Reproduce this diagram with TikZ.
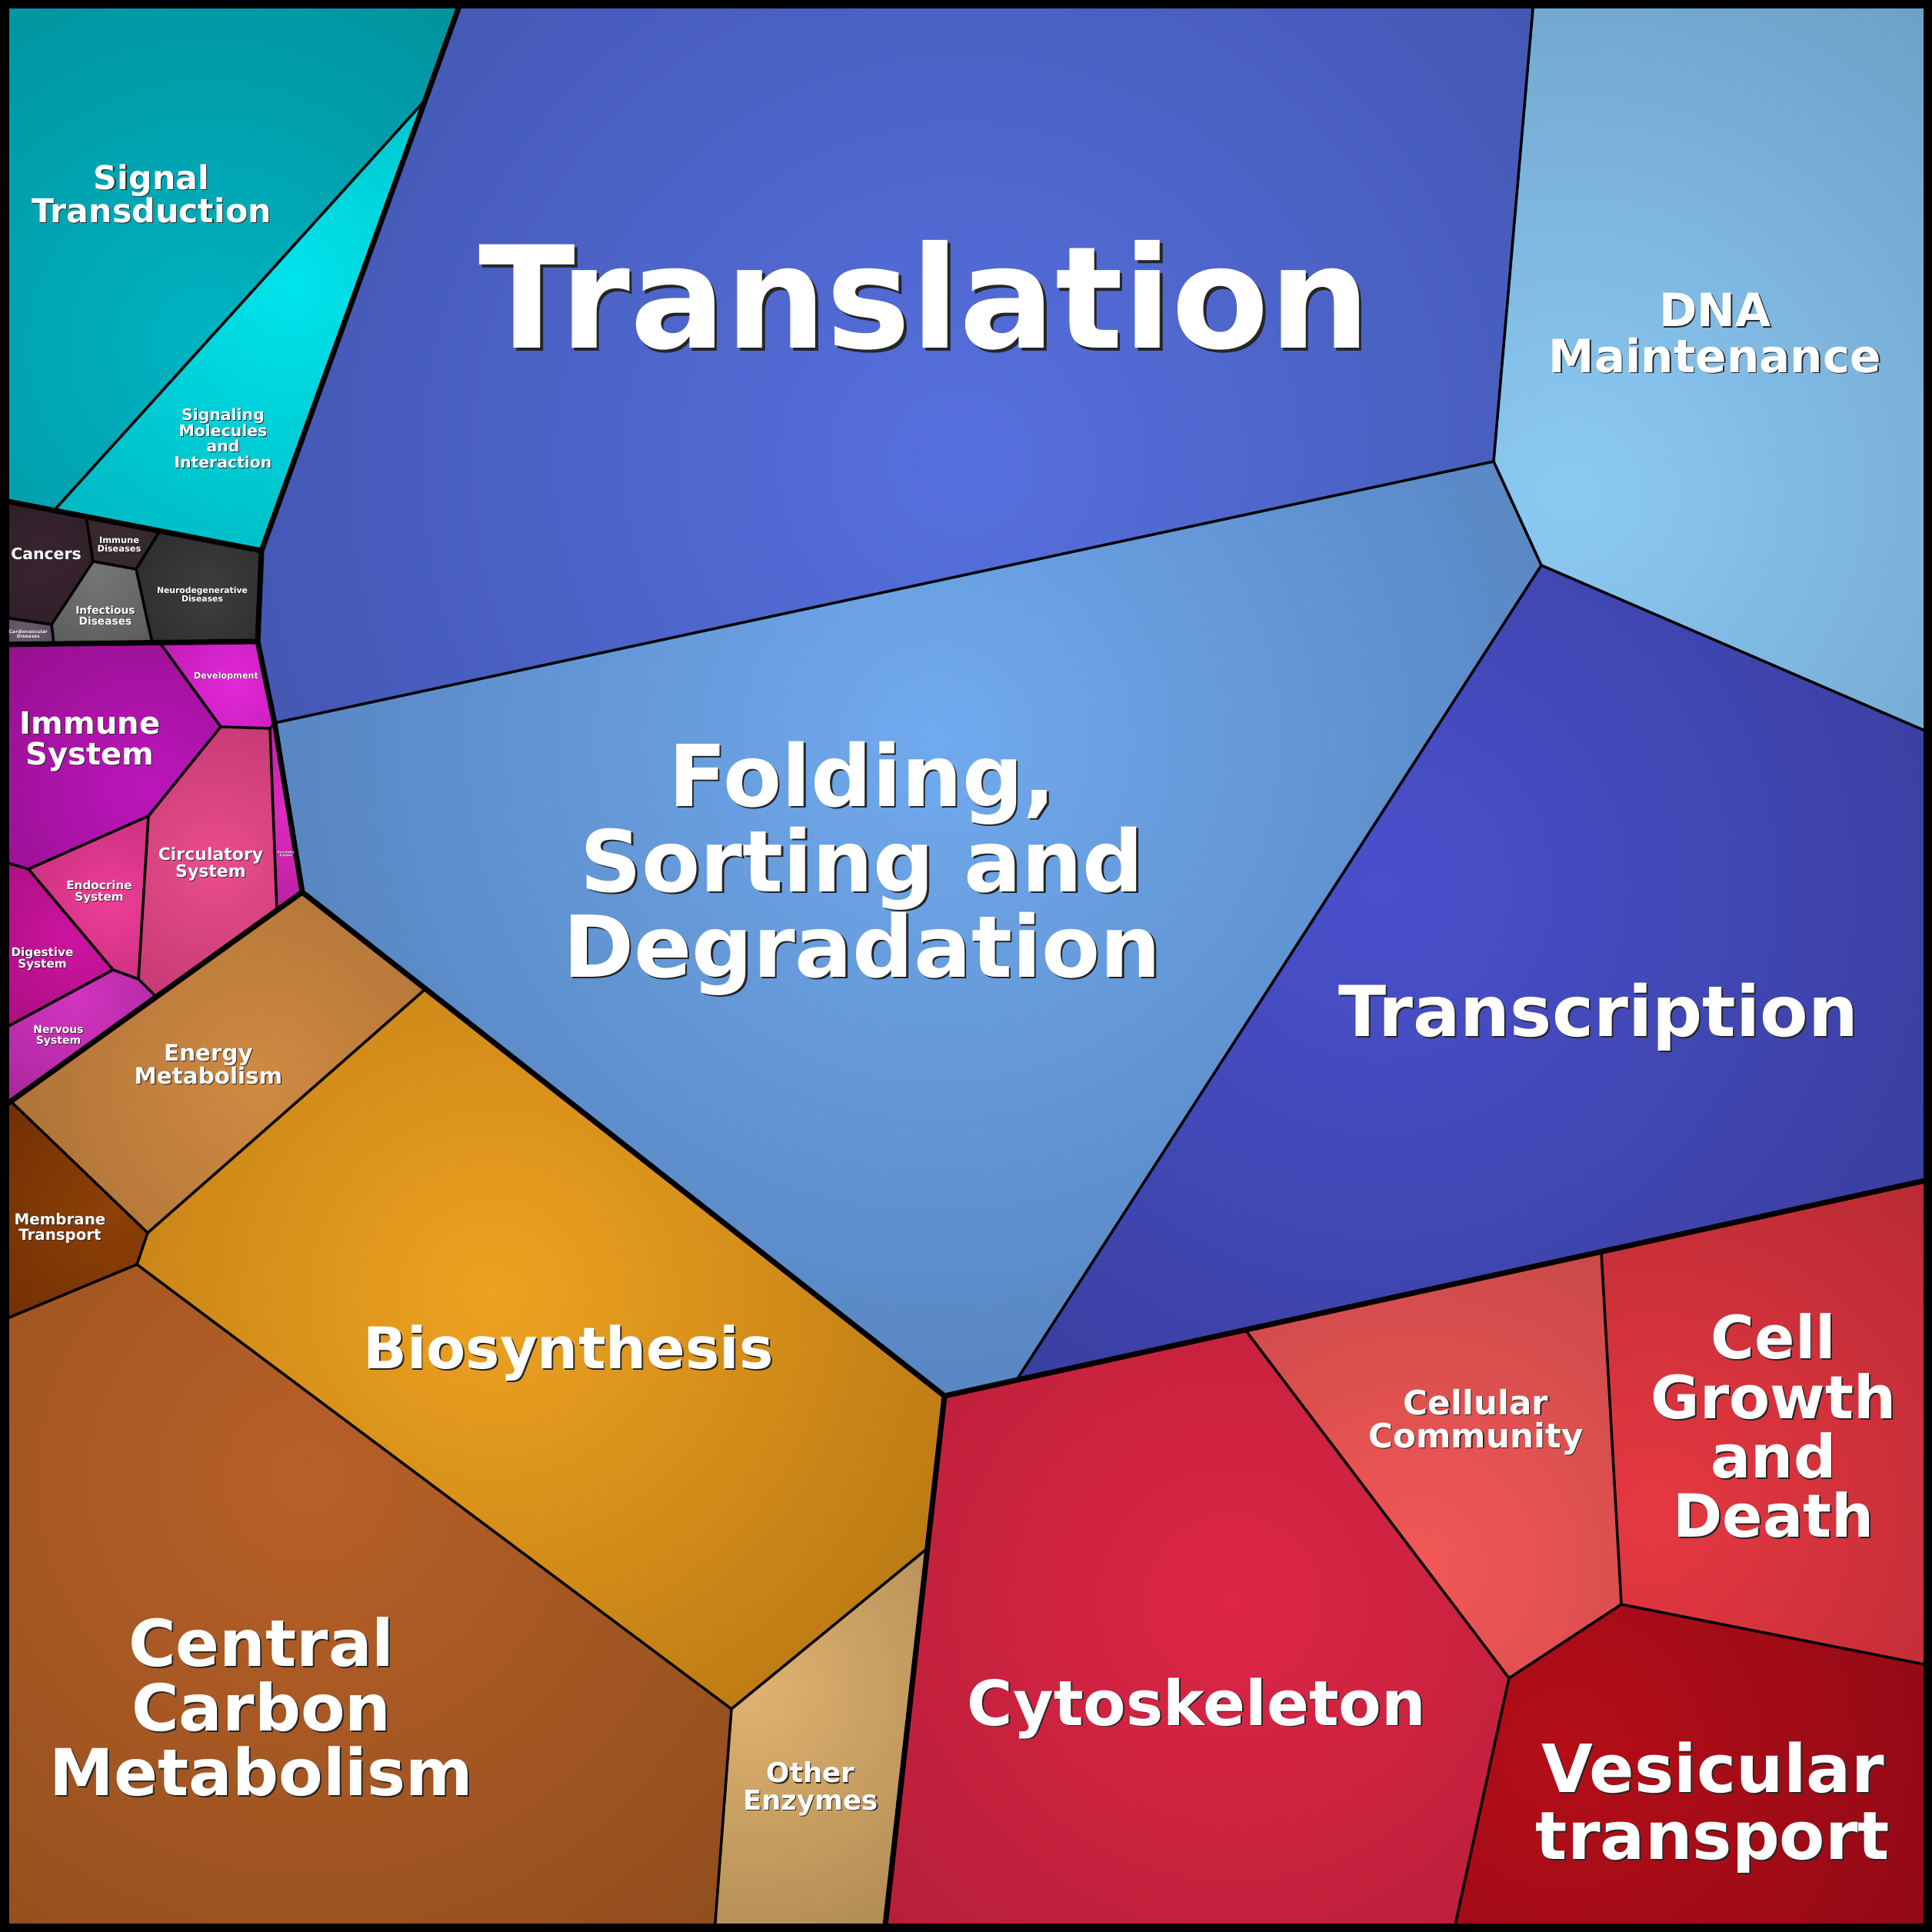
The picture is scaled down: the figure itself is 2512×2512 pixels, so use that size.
\documentclass[tikz,border=0pt]{standalone}
\usepackage{fontspec}
\setmainfont{DejaVu Sans}
\usepackage{tikz}
\usetikzlibrary{calc}

\definecolor{translIn}{RGB}{86,112,222}\definecolor{translOut}{RGB}{62,80,166}
\definecolor{foldIn}{RGB}{112,170,238}\definecolor{foldOut}{RGB}{80,122,178}
\definecolor{dnaIn}{RGB}{140,202,244}\definecolor{dnaOut}{RGB}{98,146,184}
\definecolor{transcIn}{RGB}{74,80,204}\definecolor{transcOut}{RGB}{52,58,144}
\definecolor{signalIn}{RGB}{0,180,194}\definecolor{signalOut}{RGB}{0,134,144}
\definecolor{sigmolIn}{RGB}{0,228,236}\definecolor{sigmolOut}{RGB}{0,168,178}
\definecolor{cancerIn}{RGB}{56,36,46}\definecolor{cancerOut}{RGB}{44,30,38}
\definecolor{immdisIn}{RGB}{60,44,50}\definecolor{immdisOut}{RGB}{46,34,40}
\definecolor{infectIn}{RGB}{118,118,118}\definecolor{infectOut}{RGB}{80,80,80}
\definecolor{neuroIn}{RGB}{62,62,62}\definecolor{neuroOut}{RGB}{40,40,40}
\definecolor{cardioIn}{RGB}{104,90,110}\definecolor{cardioOut}{RGB}{82,70,88}
\definecolor{develIn}{RGB}{228,40,218}\definecolor{develOut}{RGB}{176,24,166}
\definecolor{immsysIn}{RGB}{188,22,188}\definecolor{immsysOut}{RGB}{134,14,124}
\definecolor{circIn}{RGB}{234,76,142}\definecolor{circOut}{RGB}{184,52,108}
\definecolor{endoIn}{RGB}{238,62,152}\definecolor{endoOut}{RGB}{190,44,120}
\definecolor{digestIn}{RGB}{206,20,160}\definecolor{digestOut}{RGB}{156,14,120}
\definecolor{nervIn}{RGB}{210,52,192}\definecolor{nervOut}{RGB}{148,34,138}
\definecolor{excrIn}{RGB}{222,42,192}\definecolor{excrOut}{RGB}{176,30,152}
\definecolor{energyIn}{RGB}{208,138,66}\definecolor{energyOut}{RGB}{164,108,52}
\definecolor{membIn}{RGB}{142,64,6}\definecolor{membOut}{RGB}{102,42,4}
\definecolor{biosIn}{RGB}{238,162,32}\definecolor{biosOut}{RGB}{174,112,16}
\definecolor{ccmIn}{RGB}{184,96,40}\definecolor{ccmOut}{RGB}{132,72,26}
\definecolor{otherIn}{RGB}{224,178,112}\definecolor{otherOut}{RGB}{166,132,78}
\definecolor{cytoIn}{RGB}{222,38,70}\definecolor{cytoOut}{RGB}{168,28,52}
\definecolor{commIn}{RGB}{242,88,86}\definecolor{commOut}{RGB}{188,68,68}
\definecolor{growthIn}{RGB}{230,56,66}\definecolor{growthOut}{RGB}{168,38,46}
\definecolor{vesicIn}{RGB}{180,14,24}\definecolor{vesicOut}{RGB}{134,8,20}

\tikzset{cell/.style n args={4}{
  path picture={\shade[inner color=#1, outer color=#2] (#3) circle (#4);}
  }
}
\tikzset{thin border/.style={black, line width=0.875pt, line cap=round}}
\tikzset{thick border/.style={black, line width=1.75pt, line join=round, line cap=round}}
\tikzset{cell text/.style={white, align=center, inner sep=0pt}}
\tikzset{cell shadow/.style={black!85, align=center, inner sep=0pt}}

\begin{document}
\begin{tikzpicture}[x=0.25pt,y=-0.25pt]
    \useasboundingbox (0,0) rectangle (2512,2512);

    % group corners
    \coordinate (t0) at (600,0);    \coordinate (t1) at (1994,0);
    \coordinate (s1) at (553,130);  \coordinate (s2) at (70,664);
    \coordinate (d1) at (340,716);  \coordinate (d2) at (335,834);
    \coordinate (o1) at (357,940);  \coordinate (o2) at (393,1160);
    \coordinate (g1) at (1942,600); \coordinate (g2) at (2004,735);
    \coordinate (r1) at (2512,954); \coordinate (r2) at (2512,1533);
    \coordinate (c1) at (1322,1794);\coordinate (m1) at (1228,1815);
    \coordinate (m2) at (1150,2512);
    \coordinate (l1) at (0,650);    \coordinate (l2) at (0,838);
    \coordinate (l3) at (0,1442);
    \coordinate (tl) at (0,0);      \coordinate (tr) at (2512,0);
    \coordinate (bl) at (0,2512);   \coordinate (br) at (2512,2512);
    % diseases
    \coordinate (a1) at (112,672);  \coordinate (a2) at (208,690);
    \coordinate (a3) at (121,730);  \coordinate (a4) at (177,740);
    \coordinate (a5) at (67,812);   \coordinate (a6) at (198,836);
    \coordinate (a7) at (70,837);   \coordinate (la) at (0,802);
    % organismal systems
    \coordinate (b1) at (208,836);  \coordinate (b2) at (287,945);
    \coordinate (b3) at (351,947);  \coordinate (b4) at (193,1061);
    \coordinate (b5) at (37,1130);  \coordinate (b6) at (360,1184);
    \coordinate (b7) at (203,1296); \coordinate (b8) at (180,1273);
    \coordinate (b9) at (147,1261); \coordinate (lb1) at (0,1119);
    \coordinate (lb2) at (0,1340);
    % metabolism
    \coordinate (e0) at (14,1432);  \coordinate (e1) at (553,1286);
    \coordinate (e2) at (192,1603); \coordinate (e3) at (178,1644);
    \coordinate (e4) at (951,2222); \coordinate (e5) at (1206,2013);
    \coordinate (e6) at (929,2512); \coordinate (le) at (0,1718);
    % cellular processes
    \coordinate (f1) at (1619,1729);\coordinate (f2) at (2082,1628);
    \coordinate (f3) at (2108,2086);\coordinate (f4) at (1962,2182);
    \coordinate (f5) at (1890,2512);\coordinate (f6) at (2512,2166);

    % cells
    \path[cell={translIn}{translOut}{1250,600}{1250}] (t0) -- (t1) -- (g1) -- (o1) -- (d2) -- (d1) -- (s1) -- cycle;
    \path[cell={dnaIn}{dnaOut}{2040,640}{1050}] (t1) -- (tr) -- (r1) -- (g2) -- (g1) -- cycle;
    \path[cell={foldIn}{foldOut}{1218,961}{1150}] (o1) -- (g1) -- (g2) -- (c1) -- (m1) -- (o2) -- cycle;
    \path[cell={transcIn}{transcOut}{1794,1153}{1080}] (g2) -- (r1) -- (r2) -- (c1) -- cycle;
    \path[cell={signalIn}{signalOut}{272,449}{740}] (tl) -- (t0) -- (s1) -- (s2) -- (l1) -- cycle;
    \path[cell={sigmolIn}{sigmolOut}{376,368}{570}] (s1) -- (d1) -- (s2) -- cycle;
    \path[cell={cancerIn}{cancerOut}{55,730}{140}] (l1) -- (a1) -- (a3) -- (a5) -- (la) -- cycle;
    \path[cell={immdisIn}{immdisOut}{155,705}{90}] (a1) -- (a2) -- (a4) -- (a3) -- cycle;
    \path[cell={infectIn}{infectOut}{128,745}{160}] (a3) -- (a4) -- (a6) -- (a7) -- (a5) -- cycle;
    \path[cell={neuroIn}{neuroOut}{270,770}{140}] (a2) -- (d1) -- (d2) -- (a6) -- (a4) -- cycle;
    \path[cell={cardioIn}{cardioOut}{35,822}{60}] (la) -- (a5) -- (a7) -- (l2) -- cycle;
    \path[cell={develIn}{develOut}{304,889}{150}] (b1) -- (d2) -- (o1) -- (b3) -- (b2) -- cycle;
    \path[cell={immsysIn}{immsysOut}{192,1025}{360}] (l2) -- (b1) -- (b2) -- (b4) -- (b5) -- (lb1) -- cycle;
    \path[cell={circIn}{circOut}{280,1121}{260}] (b2) -- (b3) -- (b6) -- (b7) -- (b8) -- (b4) -- cycle;
    \path[cell={excrIn}{excrOut}{372,1050}{170}] (b3) -- (o1) -- (o2) -- (b6) -- cycle;
    \path[cell={endoIn}{endoOut}{144,1170}{160}] (b5) -- (b4) -- (b8) -- (b9) -- cycle;
    \path[cell={digestIn}{digestOut}{96,1218}{190}] (lb1) -- (b5) -- (b9) -- (lb2) -- cycle;
    \path[cell={nervIn}{nervOut}{96,1298}{240}] (lb2) -- (b9) -- (b8) -- (b7) -- (l3) -- cycle;
    \path[cell={energyIn}{energyOut}{336,1410}{430}] (o2) -- (e1) -- (e2) -- (e0) -- cycle;
    \path[cell={membIn}{membOut}{144,1578}{270}] (l3) -- (e0) -- (e2) -- (e3) -- (le) -- cycle;
    \path[cell={biosIn}{biosOut}{641,1682}{830}] (e1) -- (m1) -- (e5) -- (e4) -- (e3) -- (e2) -- cycle;
    \path[cell={ccmIn}{ccmOut}{400,1922}{1050}] (le) -- (e3) -- (e4) -- (e6) -- (bl) -- cycle;
    \path[cell={otherIn}{otherOut}{977,2195}{430}] (e4) -- (e5) -- (m2) -- (e6) -- cycle;
    \path[cell={cytoIn}{cytoOut}{1602,2083}{830}] (m1) -- (f1) -- (f4) -- (f5) -- (m2) -- cycle;
    \path[cell={commIn}{commOut}{1842,2035}{630}] (f1) -- (f2) -- (f3) -- (f4) -- cycle;
    \path[cell={growthIn}{growthOut}{2147,1970}{760}] (f2) -- (r2) -- (f6) -- (f3) -- cycle;
    \path[cell={vesicIn}{vesicOut}{2035,2275}{710}] (f4) -- (f3) -- (f6) -- (br) -- (f5) -- cycle;

    % borders inside the groups
    \foreach \a/\b in {s1/s2, a1/a3, a2/a4, a3/a4, a3/a5, a4/a6, la/a5, a5/a7,
        b1/b2, b2/b3, b3/o1, b2/b4, b4/b5, b5/lb1, b4/b8, b5/b9, b8/b9, b8/b7, b3/b6, b9/lb2,
        o1/g1, t1/g1, g1/g2, g2/r1, g2/c1,
        e0/e2, e1/e2, e2/e3, e3/le, e3/e4, e4/e5, e4/e6,
        f1/f4, f2/f3, f3/f4, f3/f6, f4/f5}
        \draw[thin border] (\a) -- (\b);

    % borders between the groups
    \draw[thick border] (t0) -- (s1) -- (d1) -- (d2) -- (o1) -- (o2) -- (m1) -- (m2);
    \draw[thick border] (l1) -- (d1);
    \draw[thick border] (l2) -- (d2);
    \draw[thick border] (o2) -- (l3);
    \draw[thick border] (m1) -- (r2);
    \draw[line width=2.875pt] (5.75,5.75) rectangle (2506.25,2506.25);

    \foreach \nm/\x/\y/\s/\t in {
        translation/1202/384/46.1/Translation,
        folding/1121/1129/27.75/{Folding,\\Sorting and\\Degradation},
        dna/2230/433/14.9/{DNA\\Maintenance},
        transcription/2078/1322/22.8/Transcription,
        signal/197/252/10.7/{Signal\\Transduction},
        sigmol/290/570/5.1/{Signaling\\Molecules\\and\\Interaction},
        cancers/60/720/5.1/Cancers,
        immdis/155/708/2.85/{Immune\\Diseases},
        infect/137/800/3.45/{Infectious\\Diseases},
        neuro/263/773/2.7/{Neurodegenerative\\Diseases},
        cardio/37/824/1.5/{Cardiovascular\\Diseases},
        devel/294/879/2.8/Development,
        immsys/117/964/10/{Immune\\System},
        circ/274/1124/5.5/{Circulatory\\System},
        endo/129/1160/3.8/{Endocrine\\System},
        digest/55/1247/3.8/{Digestive\\System},
        nerv/76/1347/3.5/{Nervous\\System},
        excr/372/1110/1.0/{Excretory\\System},
        energy/271/1384/7.35/{Energy\\Metabolism},
        memb/78/1597/4.95/{Membrane\\Transport},
        bios/739/1759/18.65/Biosynthesis,
        ccm/340/2219/21/{Central\\Carbon\\Metabolism},
        other/1054/2326/8.9/{Other\\Enzymes},
        cyto/1556/2221/20.25/Cytoskeleton,
        comm/1919/1849/10.9/{Cellular\\Community},
        growth/2306/1854/19.35/{Cell\\Growth\\and\\Death},
        vesic/2227/2350/21.6/{Vesicular\\transport}}
    {
        \node[cell shadow, font=\bfseries\fontsize{\s}{\s}\selectfont, xshift={(0.016*\s+0.15)*1pt}, yshift={-(0.016*\s+0.15)*1pt}] (\nm-sh) at (\x,\y) {\t};
        \node[cell text, font=\bfseries\fontsize{\s}{\s}\selectfont] (\nm) at (\x,\y) {\t};
    }

\end{tikzpicture}
\end{document}
